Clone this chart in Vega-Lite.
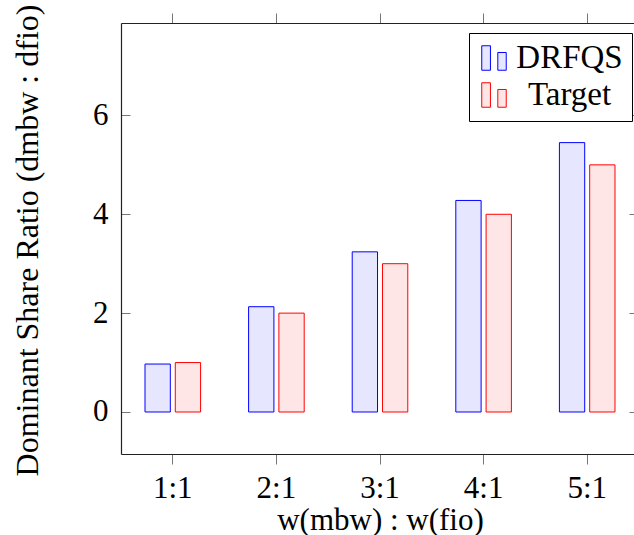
{
  "$schema": "https://vega.github.io/schema/vega-lite/v6.json",
  "width": 513,
  "height": 431,
  "autosize": {"type": "none"},
  "padding": {"left": 121, "top": 23, "right": 0, "bottom": 81},
  "background": "white",
  "config": {
    "view": {"stroke": null},
    "font": "Liberation Serif",
    "axis": {
      "labelFont": "Liberation Serif",
      "labelFontSize": 31,
      "labelColor": "black",
      "titleFont": "Liberation Serif",
      "titleFontSize": 32,
      "titleFontWeight": "normal",
      "titleColor": "black",
      "domainColor": "#222",
      "domainWidth": 1.2,
      "tickColor": "#777",
      "tickWidth": 1,
      "grid": false
    }
  },
  "data": {
    "values": [
      {"ratio": "1:1", "series": "DRFQS", "value": 0.97},
      {"ratio": "1:1", "series": "Target", "value": 1.0},
      {"ratio": "2:1", "series": "DRFQS", "value": 2.13},
      {"ratio": "2:1", "series": "Target", "value": 2.0},
      {"ratio": "3:1", "series": "DRFQS", "value": 3.24},
      {"ratio": "3:1", "series": "Target", "value": 3.0},
      {"ratio": "4:1", "series": "DRFQS", "value": 4.28},
      {"ratio": "4:1", "series": "Target", "value": 4.0},
      {"ratio": "5:1", "series": "DRFQS", "value": 5.45},
      {"ratio": "5:1", "series": "Target", "value": 5.0}
    ]
  },
  "layer": [
    {
      "mark": {"type": "bar", "strokeWidth": 1, "fillOpacity": 1},
      "encoding": {
        "x": {
          "field": "ratio", "type": "ordinal",
          "sort": ["1:1", "2:1", "3:1", "4:1", "5:1"],
          "scale": {"range": [0, 518], "paddingInner": 0, "paddingOuter": -0.02},
          "axis": {
            "orient": "bottom", "title": "w(mbw) : w(fio)", "labelAngle": 0,
            "tickSize": 10, "labelPadding": 9, "domain": true, "titleFontSize": 31,
            "titleX": 259, "titleY": 75, "titleAlign": "center", "titleBaseline": "alphabetic"
          }
        },
        "xOffset": {
          "field": "series", "type": "nominal",
          "scale": {"paddingInner": 0.164, "paddingOuter": 0.793}
        },
        "y": {
          "field": "value", "type": "quantitative",
          "scale": {"domain": [-0.85, 7.87], "nice": false, "zero": false},
          "axis": {
            "orient": "left", "values": [0, 2, 4, 6], "tickSize": -9, "labelPadding": 22,
            "domain": true, "title": "Dominant Share Ratio (dmbw : dfio)",
            "titleAngle": -90, "titleX": -84, "titleY": 217, "titleAlign": "center", "titleBaseline": "alphabetic"
          }
        },
        "fill": {
          "field": "series", "type": "nominal",
          "scale": {"domain": ["DRFQS", "Target"], "range": ["#e6e6ff", "#ffe6e6"]},
          "legend": {
            "orient": "none", "legendX": 348, "legendY": 10, "title": null,
            "symbolType": "M-1,-1H-0.29V1H-1Z M0.31,-0.45H1V1H0.31Z",
            "symbolSize": 600, "symbolStrokeWidth": 1,
            "labelFont": "Liberation Serif", "labelFontSize": 33, "labelColor": "black",
            "labelAlign": "center", "labelOffset": 59, "rowPadding": 3, "padding": 8.5,
            "strokeColor": "black", "fillColor": "white"
          }
        },
        "stroke": {
          "field": "series", "type": "nominal",
          "scale": {"domain": ["DRFQS", "Target"], "range": ["#0000ff", "#ff0000"]},
          "legend": {
            "orient": "none", "legendX": 348, "legendY": 10, "title": null,
            "symbolType": "M-1,-1H-0.29V1H-1Z M0.31,-0.45H1V1H0.31Z",
            "symbolSize": 600, "symbolStrokeWidth": 1,
            "labelFont": "Liberation Serif", "labelFontSize": 33, "labelColor": "black",
            "labelAlign": "center", "labelOffset": 59, "rowPadding": 3, "padding": 8.5,
            "strokeColor": "black", "fillColor": "white"
          }
        }
      }
    },
    {
      "mark": {"type": "bar", "opacity": 0},
      "encoding": {
        "x": {
          "field": "ratio", "type": "ordinal",
          "sort": ["1:1", "2:1", "3:1", "4:1", "5:1"],
          "scale": {"range": [0, 518], "paddingInner": 0, "paddingOuter": -0.02},
          "axis": {"orient": "top", "title": null, "labels": false, "tickSize": 10, "domain": true}
        },
        "xOffset": {
          "field": "series", "type": "nominal",
          "scale": {"paddingInner": 0.164, "paddingOuter": 0.793}
        },
        "y": {
          "field": "value", "type": "quantitative",
          "scale": {"domain": [-0.85, 7.87], "nice": false, "zero": false},
          "axis": {"orient": "right", "values": [0, 2, 4, 6], "tickSize": -10, "labels": false, "domain": false, "title": null, "offset": 5}
        }
      }
    }
  ],
  "resolve": {"axis": {"x": "independent", "y": "independent"}}
}
